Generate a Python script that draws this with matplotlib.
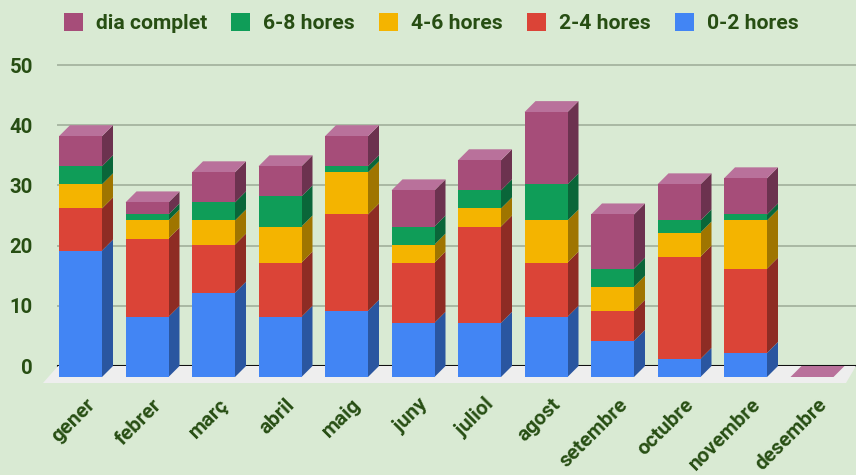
#! /usr/bin/env python3

import matplotlib.pyplot as plt
import numpy as np
from matplotlib.patches import Patch, Polygon
from matplotlib.transforms import ScaledTranslation

months = ["gener", "febrer", "març", "abril", "maig", "juny", "juliol", "agost",
          "setembre", "octubre", "novembre", "desembre"]
hours_0_2 = [21, 10, 14, 10, 11, 9, 9, 10, 6, 3, 4, 0]
hours_2_4 = [7, 13, 8, 9, 16, 10, 16, 9, 5, 17, 14, 0]
hours_4_6 = [4, 3, 4, 6, 7, 3, 3, 7, 4, 4, 8, 0]
hours_6_8 = [3, 1, 3, 5, 1, 3, 3, 6, 3, 2, 1, 0]
full_day = [5, 2, 5, 5, 5, 6, 5, 12, 9, 6, 6, 0]
y_ticks = [0, 10, 20, 30, 40, 50]

W, H = 856, 475
BG = "#d9ead3"
TEXT = "#274e13"
PX_X = 66.5  # pixels per category
PX_Y = 6.02  # pixels per unit
DX = 11 / PX_X
DY = 11 / PX_Y
BAR_W = 43 / PX_X

series = [
    ("0-2 hores", hours_0_2, "#4285f4", "#2a56a0"),
    ("2-4 hores", hours_2_4, "#db4437", "#8e2c24"),
    ("4-6 hores", hours_4_6, "#f4b400", "#9f7500"),
    ("6-8 hores", hours_6_8, "#0f9d58", "#0a6639"),
    ("dia complet", full_day, "#a64d79", "#6c324f"),
]
TOP_COLOR = "#b9719b"

plt.rcParams["font.family"] = ["Roboto", "DejaVu Sans"]
plt.rcParams["font.weight"] = "bold"
FS = 15.2

fig = plt.figure(figsize=(W / 100, H / 100), dpi=100, facecolor=BG)
ax = fig.add_axes([58 / W, 1 - 366 / H, (W - 58) / W, 301 / H], facecolor=BG)
ax.set_xlim((58 - 80.5) / PX_X, (W - 80.5) / PX_X)
ax.set_ylim(0, 50)
for spine in ax.spines.values():
    spine.set_visible(False)

ax.set_yticks(y_ticks)
ax.set_yticklabels([str(v) for v in y_ticks], fontsize=14.6, color=TEXT)
ax.tick_params(axis="y", length=0, pad=18)
ax.grid(True, axis="y", color="#a9b8a3", lw=1.4, clip_on=False, zorder=0)
ax.set_axisbelow(True)
ax.axhline(0, color="#111111", lw=1.5, zorder=1, clip_on=False)

# floor of the 3d box
x0, x1 = ax.get_xlim()
floor = Polygon(
    [(x0, 0), (x1, 0), ((846 - 80.5) / PX_X, -17 / PX_Y), ((43 - 80.5) / PX_X, -17 / PX_Y)],
    closed=True, facecolor="#eeeeee", edgecolor="none", clip_on=False, zorder=1.5,
)
ax.add_patch(floor)

xs = np.arange(len(months))
bottoms = np.zeros(len(months))
for label, values, color, side in series:
    values = np.array(values, dtype=float)
    ax.bar(xs, values, BAR_W, bottom=bottoms - DY, color=color, clip_on=False, zorder=3)
    for x, b, v in zip(xs, bottoms, values):
        if v == 0:
            continue
        xr = x + BAR_W / 2
        ax.fill([xr, xr + DX, xr + DX, xr], [b - DY, b, b + v, b + v - DY],
                color=side, lw=0, clip_on=False, zorder=2.5)
    bottoms += values

for x, top in zip(xs, bottoms):
    xl, xr = x - BAR_W / 2, x + BAR_W / 2
    ax.fill([xl, xr, xr + DX, xl + DX], [top - DY, top - DY, top, top],
            color=TOP_COLOR, lw=0, clip_on=False, zorder=2.6)

ax.set_xticks(xs)
ax.set_xticklabels(months, rotation=45, ha="right", va="top", rotation_mode="anchor",
                   fontsize=14.9, color=TEXT)
ax.tick_params(axis="x", length=0, pad=21)
shift = ScaledTranslation(5 / 100, 0, fig.dpi_scale_trans)
for tick in ax.get_xticklabels():
    tick.set_transform(tick.get_transform() + shift)

handles = [Patch(facecolor=c, edgecolor="none", label=n) for n, _, c, _ in reversed(series)]
fig.legend(
    handles=handles, ncol=5, loc="upper left", bbox_to_anchor=(64 / W, 1 - 13 / H),
    frameon=False, fontsize=FS, labelcolor=TEXT, handlelength=0.9, handleheight=0.9,
    handletextpad=0.62, columnspacing=1.14, borderpad=0, borderaxespad=0,
)

fig.savefig("out.png", dpi=100, facecolor=BG)
